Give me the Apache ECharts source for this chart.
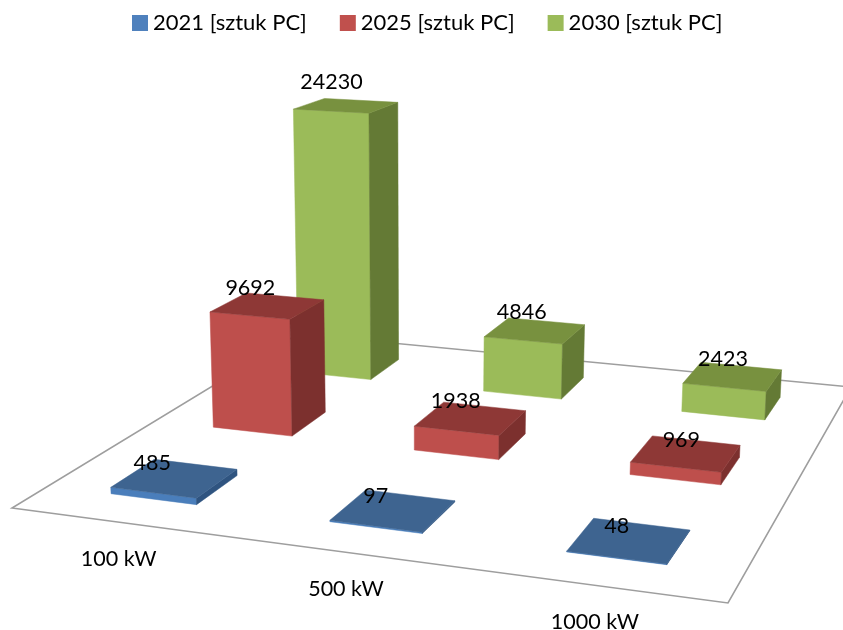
<!DOCTYPE html>
<html>
<head>
<meta charset="utf-8">
<style>
  html, body { margin: 0; padding: 0; background: #fff; }
  #chart { width: 843px; height: 630px; }
</style>
<script src="https://cdn.jsdelivr.net/npm/echarts@6/dist/echarts.min.js"></script>
</head>
<body>
<div id="chart"></div>
<script>
// Installed PV units by plant size and year
const categories = ['100 kW', '500 kW', '1000 kW'];
const years = ['2021 [sztuk PC]', '2025 [sztuk PC]', '2030 [sztuk PC]'];
const values2021 = [485, 97, 48];
const values2025 = [9692, 1938, 969];
const values2030 = [24230, 4846, 2423];

// Face shades per series: front, right side, top
const shades = [
  { base: '#4F81BD', front: '#4A7EBB', side: '#2F5480', top: '#3E6490' },
  { base: '#C0504D', front: '#BE4F4C', side: '#7C302E', top: '#8E3836' },
  { base: '#9BBB59', front: '#9BBB59', side: '#647A35', top: '#78913F' }
];

// Floor plane corners on the page: front-left, front-right, back-right, back-left
const floorCorners = [[12, 508], [728, 603], [851, 387], [298, 334]];
const [p0, p1, p2, p3] = floorCorners;

// Plane-to-page homography for the unit square
const sx = p0[0] - p1[0] + p2[0] - p3[0], sy = p0[1] - p1[1] + p2[1] - p3[1];
const dx1 = p1[0] - p2[0], dx2 = p3[0] - p2[0], dy1 = p1[1] - p2[1], dy2 = p3[1] - p2[1];
const det = dx1 * dy2 - dx2 * dy1;
const hg = (sx * dy2 - dx2 * sy) / det, hh = (dx1 * sy - sx * dy1) / det;
function floorPoint(u, v) {
  const w = hg * u + hh * v + 1;
  return {
    x: ((p1[0] - p0[0] + hg * p1[0]) * u + (p3[0] - p0[0] + hh * p3[0]) * v + p0[0]) / w,
    y: ((p1[1] - p0[1] + hg * p1[1]) * u + (p3[1] - p0[1] + hh * p3[1]) * v + p0[1]) / w,
    w
  };
}

// Verticals converge on a point far below the floor
const verticalVanish = [420, 7500];
const barShare = 0.40;
const depthShare = 0.40;
const refDepth = floorPoint(1 / 6, 5 / 6).w;

function lift(u, v, px) {
  const f = floorPoint(u, v);
  const h = px * refDepth / f.w;
  return [f.x + (f.x - verticalVanish[0]) * h / (verticalVanish[1] - f.y), f.y - h];
}

// Value label offsets from the back-left top corner of each bar, by series then category
const labelNudge = [
  [[-2, 4], [10, 6], [23, 8]],
  [[4, -5], [12, -1], [29, 4]],
  [[7, -16], [13, -6], [22, -3]]
];

const textStyle = { fill: '#000', fontFamily: 'Lato', fontSize: 21.5, textAlign: 'center', textVerticalAlign: 'middle' };

function barRenderer(seriesIndex) {
  const shade = shades[seriesIndex];
  return function (params, api) {
    const cat = api.value(0);
    const value = api.value(1);
    const px = api.size([0, value])[1];
    const uc = (cat + 0.5) / 3, vc = (seriesIndex + 0.5) / 3;
    const du = barShare / 6, dv = depthShare / 6;
    const u0 = uc - du, u1 = uc + du, v0 = vc - dv, v1 = vc + dv;
    const FLb = lift(u0, v0, 0), FRb = lift(u1, v0, 0), BRb = lift(u1, v1, 0);
    const FLt = lift(u0, v0, px), FRt = lift(u1, v0, px), BRt = lift(u1, v1, px), BLt = lift(u0, v1, px);
    const z2 = 3 - seriesIndex;
    const face = (points, fill) => ({
      type: 'polygon', z2, shape: { points }, style: { fill, stroke: fill, lineWidth: 0.5 }
    });
    const nudge = labelNudge[seriesIndex][cat];
    return {
      type: 'group',
      children: [
        face([FLb, FRb, FRt, FLt], shade.front),
        face([FRb, BRb, BRt, FRt], shade.side),
        face([FLt, FRt, BRt, BLt], shade.top),
        {
          type: 'text', z2: 20,
          style: Object.assign({ text: String(value), x: BLt[0] + nudge[0], y: BLt[1] + nudge[1] }, textStyle)
        }
      ]
    };
  };
}

// Floor outline with the category names along its front edge
const categoryNudge = [[-1, 37], [-2, 36], [-1, 37]];
function floorRenderer() {
  const children = [{
    type: 'polygon', z2: 0,
    shape: { points: floorCorners },
    style: { fill: 'none', stroke: '#9E9E9E', lineWidth: 1.6 }
  }];
  categories.forEach((name, i) => {
    const f = floorPoint((i + 0.5) / 3, 0);
    children.push({
      type: 'text', z2: 20,
      style: Object.assign({ text: name, x: f.x + categoryNudge[i][0], y: f.y + categoryNudge[i][1] }, textStyle)
    });
  });
  return { type: 'group', children };
}

const chart = echarts.init(document.getElementById('chart'), null, { renderer: 'canvas' });
const seriesValues = [values2021, values2025, values2030];

chart.setOption({
  animation: false,
  backgroundColor: '#fff',
  legend: {
    data: years.map((name, i) => ({ name, itemStyle: { color: shades[i].base } })),
    top: 7, left: 127,
    icon: 'rect', itemWidth: 16, itemHeight: 16, itemGap: 33,
    selectedMode: false,
    textStyle: { fontFamily: 'Lato', fontSize: 22, color: '#000' }
  },
  grid: { left: 0, right: 0, top: 0, height: 322 },
  xAxis: { type: 'category', data: categories, show: false },
  yAxis: { type: 'value', min: 0, max: 30000, show: false },
  series: [
    ...years.map((name, i) => ({
      type: 'custom',
      name,
      coordinateSystem: 'cartesian2d',
      itemStyle: { color: shades[i].base },
      encode: { x: 0, y: 1 },
      data: seriesValues[i].map((v, c) => [c, v]),
      renderItem: barRenderer(i)
    })),
    {
      type: 'custom',
      name: 'floor',
      coordinateSystem: 'cartesian2d',
      silent: true,
      data: [[0, 0]],
      renderItem: floorRenderer
    }
  ]
});
</script>
</body>
</html>
